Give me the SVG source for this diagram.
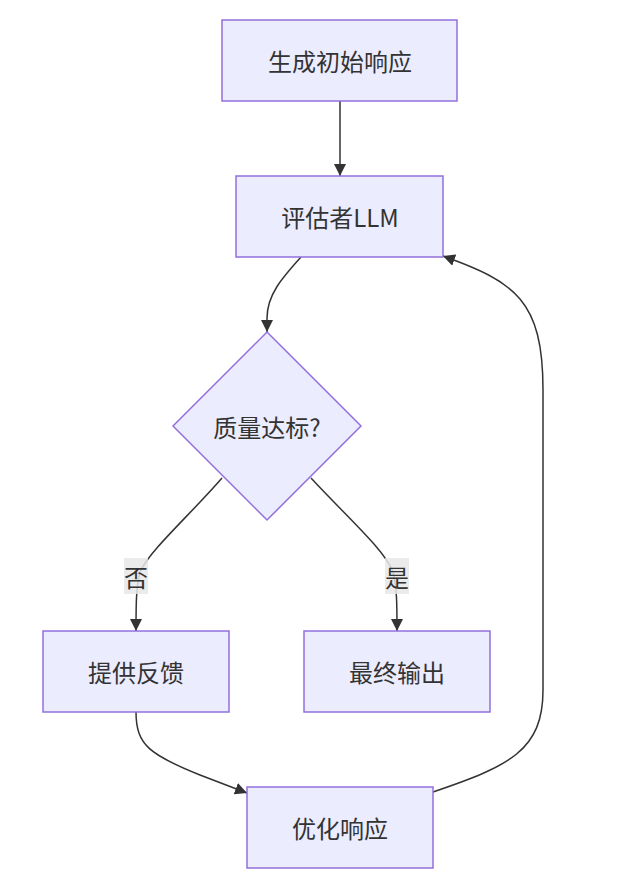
<svg xmlns="http://www.w3.org/2000/svg" width="627" height="888" viewBox="0 0 627 888">
<style>
.node rect,.node polygon{fill:#ECECFF;stroke:#9370DB;stroke-width:1.5}
text{font-family:"Noto Sans CJK SC","Liberation Sans",sans-serif;font-size:24px;fill:#333;text-anchor:middle;dominant-baseline:central}
.edge{fill:none;stroke:#333;stroke-width:1.5}
.lbl{fill:#e8e8e8;fill-opacity:0.85}
</style>
<defs>
<marker id="arr" viewBox="0 0 10 10" refX="10" refY="5" markerWidth="12" markerHeight="12" markerUnits="userSpaceOnUse" orient="auto">
<path d="M0,0 L10,5 L0,10 z" fill="#333"/>
</marker>
</defs>
<rect width="627" height="888" fill="#fff"/>
<g id="edges">
<path class="edge" d="M340,101 L340,176" marker-end="url(#arr)"/>
<path class="edge" d="M301,257 C 282,278 267,295 267,318 L267,332" marker-end="url(#arr)"/>
<path class="edge" d="M222,478 C 190,515 150,550 140,572 C 136,588 136,605 136,631" marker-end="url(#arr)"/>
<path class="edge" d="M311,478 C 345,515 385,550 393,572 C 397,588 397,605 397,631" marker-end="url(#arr)"/>
<path class="edge" d="M136,712 C 136,745 150,755 200,775 L247,793" marker-end="url(#arr)"/>
<path class="edge" d="M433,792 C 510,766 543,750 543,690 L543,390 C 543,300 515,282 443,256" marker-end="url(#arr)"/>
<g id="lbl-no"><rect class="lbl" x="124" y="558" width="24" height="36"/><text x="136" y="576">否</text></g>
<g id="lbl-yes"><rect class="lbl" x="385" y="558" width="24" height="36"/><text x="397" y="576">是</text></g>
</g>
<g id="n1" class="node"><rect x="222" y="20" width="235" height="81"/><text x="340" y="60">生成初始响应</text></g>
<g id="n2" class="node"><rect x="236" y="176" width="207" height="81"/><text x="340" y="216">评估者LLM</text></g>
<g id="n3" class="node"><polygon points="267,332 361,426 267,520 173,426"/><text x="267" y="426">质量达标?</text></g>
<g id="n4" class="node"><rect x="43" y="631" width="186" height="81"/><text x="136" y="671">提供反馈</text></g>
<g id="n5" class="node"><rect x="304" y="631" width="186" height="81"/><text x="397" y="671">最终输出</text></g>
<g id="n6" class="node"><rect x="247" y="787" width="186" height="81"/><text x="340" y="827">优化响应</text></g>
</svg>
